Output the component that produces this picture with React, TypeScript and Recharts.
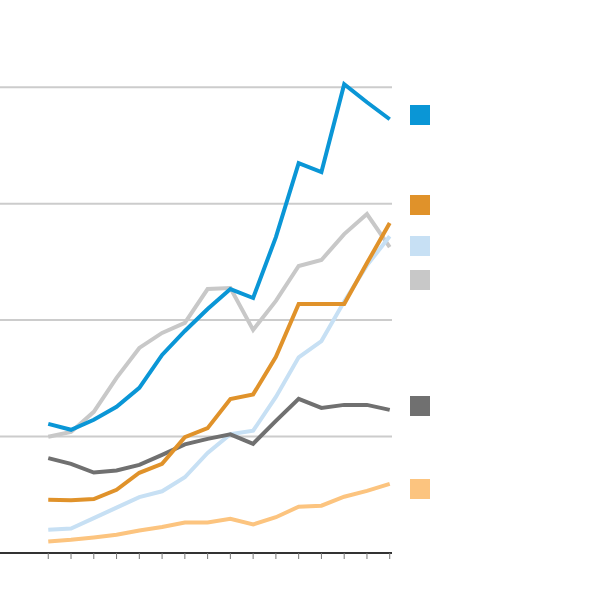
import React from "react";
import { LineChart, Line, XAxis, YAxis, CartesianGrid } from "recharts";

const periods = [0, 1, 2, 3, 4, 5, 6, 7, 8, 9, 10, 11, 12, 13, 14, 15];

const blueSeries = [1.109, 1.058, 1.144, 1.255, 1.418, 1.701, 1.907, 2.095, 2.267, 2.19, 2.713, 3.348, 3.271, 4.026, 3.871, 3.725];
const lightGraySeries = [0.998, 1.04, 1.212, 1.504, 1.761, 1.89, 1.976, 2.267, 2.276, 1.916, 2.165, 2.465, 2.516, 2.739, 2.911, 2.627];
const orangeSeries = [0.457, 0.453, 0.463, 0.543, 0.689, 0.766, 0.995, 1.072, 1.323, 1.362, 1.684, 2.138, 2.138, 2.138, 2.49, 2.834];
const lightBlueSeries = [0.2, 0.21, 0.3, 0.39, 0.48, 0.53, 0.65, 0.86, 1.02, 1.05, 1.34, 1.68, 1.82, 2.16, 2.47, 2.72];
const darkGraySeries = [0.815, 0.766, 0.691, 0.709, 0.757, 0.843, 0.933, 0.98, 1.019, 0.938, 1.135, 1.324, 1.246, 1.272, 1.272, 1.229];
const lightOrangeSeries = [0.0995, 0.114, 0.134, 0.157, 0.194, 0.223, 0.262, 0.262, 0.294, 0.245, 0.307, 0.397, 0.406, 0.483, 0.534, 0.594];

const yTicks = [0, 1, 2, 3, 4];

const series = [
  { key: "lightGray", values: lightGraySeries, color: "#c8c8c8" },
  { key: "lightOrange", values: lightOrangeSeries, color: "#fcc47f" },
  { key: "lightBlue", values: lightBlueSeries, color: "#c7e0f4" },
  { key: "darkGray", values: darkGraySeries, color: "#707070" },
  { key: "orange", values: orangeSeries, color: "#e0922a" },
  { key: "blue", values: blueSeries, color: "#0a96d6" },
];

// legend swatches (layout only)
const legendItems = [
  { color: "#0a96d6", top: 105 },
  { color: "#e0922a", top: 195 },
  { color: "#c7e0f4", top: 236 },
  { color: "#c8c8c8", top: 270 },
  { color: "#707070", top: 396 },
  { color: "#fcc47f", top: 479 },
];

const data = periods.map((p, i) => {
  const row: Record<string, number> = { period: p };
  series.forEach((s) => {
    row[s.key] = s.values[i];
  });
  return row;
});

export default function App() {
  return (
    <div style={{ position: "absolute", left: 0, top: 0, width: 600, height: 590, background: "#fff" }}>
      <LineChart
        width={600}
        height={590}
        data={data}
        margin={{ top: 29, right: 208, bottom: 7, left: 0 }}
      >
        <CartesianGrid
          horizontal
          vertical={false}
          horizontalValues={yTicks}
          stroke="#cccccc"
          strokeWidth={2}
        />
        <YAxis hide domain={[0, 4.5]} ticks={yTicks} type="number" />
        <XAxis
          dataKey="period"
          type="number"
          domain={[-2.12, 15.1]}
          ticks={periods}
          height={30}
          tickFormatter={() => ""}
          axisLine={{ stroke: "#333333", strokeWidth: 2 }}
          tickLine={{ stroke: "#777777", strokeWidth: 1 }}
          tickSize={6}
        />
        {series.map((s) => (
          <Line
            key={s.key}
            type="linear"
            dataKey={s.key}
            stroke={s.color}
            strokeWidth={4}
            dot={false}
            activeDot={false}
            isAnimationActive={false}
            strokeLinejoin="miter"
          />
        ))}
      </LineChart>
      {legendItems.map((l, i) => (
        <div
          key={i}
          style={{ position: "absolute", left: 410, top: l.top, width: 20, height: 20, background: l.color }}
        />
      ))}
    </div>
  );
}
